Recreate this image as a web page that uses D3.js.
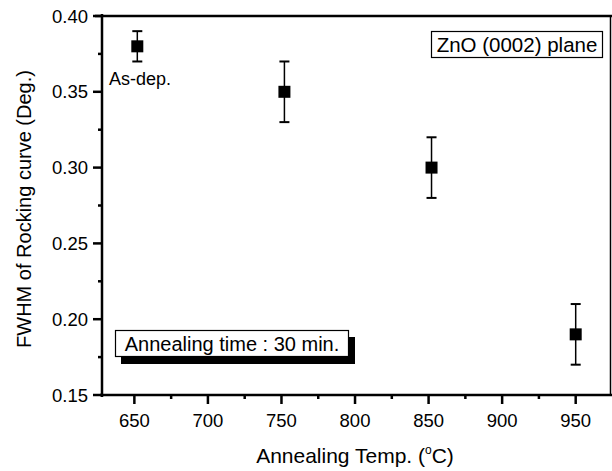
<!DOCTYPE html>
<html>
<head>
<meta charset="utf-8">
<script src="https://cdnjs.cloudflare.com/ajax/libs/d3/7.8.5/d3.min.js"></script>
<style>
  body { margin: 0; background: #fff; }
  svg { display: block; font-family: "Liberation Sans", Arial, sans-serif; }
</style>
</head>
<body>
<svg id="chart" width="612" height="471"></svg>
<script>
// data
const temps = [652, 752, 852, 950];
const fwhm = [0.38, 0.35, 0.30, 0.19];
const errs = [0.01, 0.02, 0.02, 0.02];
const xTicks = [650, 700, 750, 800, 850, 900, 950];
const yTicks = [0.15, 0.20, 0.25, 0.30, 0.35, 0.40];

const svg = d3.select("#chart");

const x = d3.scaleLinear().domain([628, 974]).range([102, 611]);
const y = d3.scaleLinear().domain([0.15, 0.40]).range([395, 16]);

// frame
svg.append("line").attr("x1", 95).attr("x2", 612).attr("y1", y(0.40)).attr("y2", y(0.40))
  .attr("stroke", "#000").attr("stroke-width", 2.5);
svg.append("line").attr("x1", 610.5).attr("x2", 610.5).attr("y1", 16).attr("y2", 395)
  .attr("stroke", "#000").attr("stroke-width", 1.5);

// y axis
const yAxis = svg.append("g").attr("transform", "translate(102,0)");
yAxis.append("line").attr("x1", 0).attr("x2", 0).attr("y1", 14).attr("y2", 397)
  .attr("stroke", "#000").attr("stroke-width", 2.5);
yAxis.selectAll(".minor").data(d3.range(0.175, 0.40, 0.05)).enter().append("line")
  .attr("x1", -4).attr("x2", 0).attr("y1", d => y(d)).attr("y2", d => y(d))
  .attr("stroke", "#000").attr("stroke-width", 2.5);
yAxis.selectAll(".major").data(yTicks).enter().append("line")
  .attr("x1", -9).attr("x2", 0).attr("y1", d => y(d)).attr("y2", d => y(d))
  .attr("stroke", "#000").attr("stroke-width", 2.5);
yAxis.selectAll(".lab").data(yTicks).enter().append("text")
  .attr("x", -14).attr("y", d => y(d)).attr("dy", "0.36em")
  .attr("text-anchor", "end").attr("font-size", "18.5px")
  .text(d => d.toFixed(2));

// x axis
const xAxis = svg.append("g").attr("transform", "translate(0,395)");
xAxis.append("line").attr("x1", 100).attr("x2", 612).attr("y1", 0).attr("y2", 0)
  .attr("stroke", "#000").attr("stroke-width", 2.5);
xAxis.selectAll(".minor").data(d3.range(675, 975, 50)).enter().append("line")
  .attr("x1", d => x(d)).attr("x2", d => x(d)).attr("y1", 0).attr("y2", 4)
  .attr("stroke", "#000").attr("stroke-width", 2.5);
xAxis.selectAll(".major").data(xTicks).enter().append("line")
  .attr("x1", d => x(d)).attr("x2", d => x(d)).attr("y1", 0).attr("y2", 9)
  .attr("stroke", "#000").attr("stroke-width", 2.5);
xAxis.selectAll(".lab").data(xTicks).enter().append("text")
  .attr("x", d => x(d)).attr("y", 32)
  .attr("text-anchor", "middle").attr("font-size", "18.5px")
  .text(d => d);

// axis titles
const xt = svg.append("text").attr("x", 355).attr("y", 463).attr("text-anchor", "middle")
  .attr("font-size", "21px");
xt.append("tspan").text("Annealing Temp. (");
xt.append("tspan").attr("font-size", "12px").attr("dy", "-9").text("o");
xt.append("tspan").attr("dy", "9").text("C)");

svg.append("text").attr("transform", "translate(31,209) rotate(-90)")
  .attr("text-anchor", "middle").attr("font-size", "20px")
  .text("FWHM of Rocking curve (Deg.)");

// error bars
const pts = temps.map((t, i) => ({ t: t, v: fwhm[i], e: errs[i] }));
const bars = svg.append("g");
bars.selectAll(".stem").data(pts).enter().append("line")
  .attr("x1", d => x(d.t)).attr("x2", d => x(d.t))
  .attr("y1", d => y(d.v + d.e)).attr("y2", d => y(d.v - d.e))
  .attr("stroke", "#000").attr("stroke-width", 1.5);
bars.selectAll(".capT").data(pts).enter().append("line")
  .attr("x1", d => x(d.t) - 5).attr("x2", d => x(d.t) + 5)
  .attr("y1", d => y(d.v + d.e)).attr("y2", d => y(d.v + d.e))
  .attr("stroke", "#000").attr("stroke-width", 2);
bars.selectAll(".capB").data(pts).enter().append("line")
  .attr("x1", d => x(d.t) - 5).attr("x2", d => x(d.t) + 5)
  .attr("y1", d => y(d.v - d.e)).attr("y2", d => y(d.v - d.e))
  .attr("stroke", "#000").attr("stroke-width", 2);
bars.selectAll(".pt").data(pts).enter().append("rect")
  .attr("x", d => x(d.t) - 6).attr("y", d => y(d.v) - 6)
  .attr("width", 12).attr("height", 12).attr("fill", "#000");

svg.append("text").attr("x", 109).attr("y", 85).attr("font-size", "18px").text("As-dep.");

// legend boxes
svg.append("rect").attr("x", 431.5).attr("y", 31.5).attr("width", 171).attr("height", 26)
  .attr("fill", "#fff").attr("stroke", "#000").attr("stroke-width", 1.2);
svg.append("text").attr("x", 517).attr("y", 52).attr("text-anchor", "middle")
  .attr("font-size", "20.5px").text("ZnO (0002) plane");

svg.append("rect").attr("x", 121).attr("y", 337).attr("width", 234).attr("height", 27).attr("fill", "#000");
svg.append("rect").attr("x", 115.5).attr("y", 330.5).attr("width", 233).attr("height", 26)
  .attr("fill", "#fff").attr("stroke", "#000").attr("stroke-width", 1.2);
svg.append("text").attr("x", 232).attr("y", 351).attr("text-anchor", "middle")
  .attr("font-size", "20px").text("Annealing time : 30 min.");
</script>
</body>
</html>
